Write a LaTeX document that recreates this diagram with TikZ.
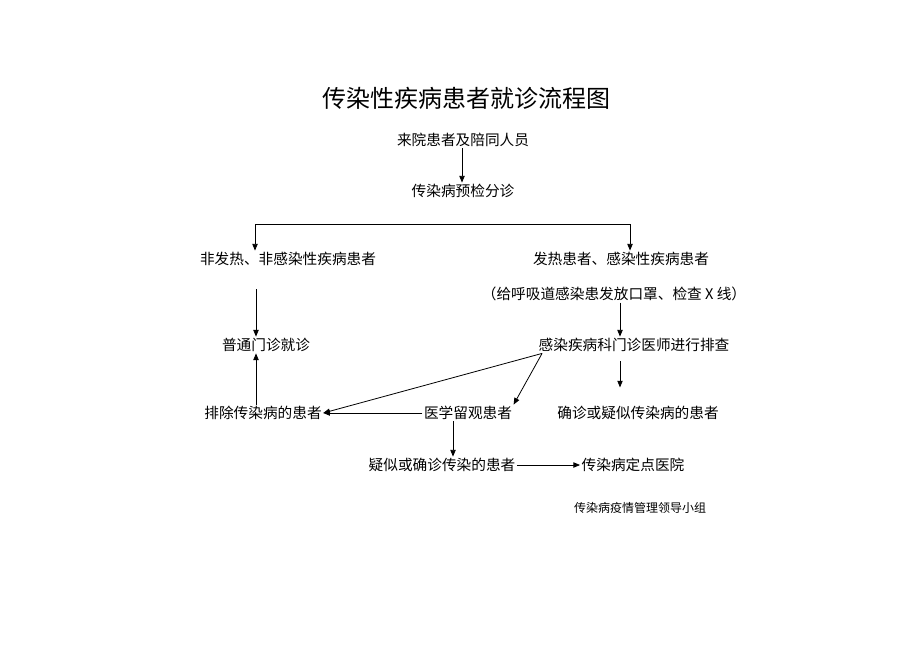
\documentclass[tikz,border=0pt]{standalone}
\usepackage{fontspec}
\setmainfont{Noto Sans CJK SC}
\usetikzlibrary{arrows.meta}
\begin{document}
\begin{tikzpicture}[x=0.75pt,y=-0.75pt,
  lbl/.style={inner sep=1pt,font=\fontsize{11}{13}\selectfont},
  arr/.style={-{Triangle[length=5pt,width=4pt]},line width=0.6pt}]
\useasboundingbox[fill=white] (0,0) rectangle (920,651);
\node[font=\fontsize{18}{22}\selectfont] (title) at (466,98) {传染性疾病患者就诊流程图};
\node[lbl] (a) at (463,140) {来院患者及陪同人员};
\node[lbl] (b) at (463,191) {传染病预检分诊};
\node[lbl] (c) at (288,259) {非发热、非感染性疾病患者};
\node[lbl] (d) at (621,259) {发热患者、感染性疾病患者};
\node[lbl] (d2) at (614,294) {（给呼吸道感染患发放口罩、检查 X 线）};
\node[lbl] (e) at (266,345) {普通门诊就诊};
\node[lbl] (f) at (634,345) {感染疾病科门诊医师进行排查};
\node[lbl] (g) at (263,413) {排除传染病的患者};
\node[lbl] (h) at (468,413) {医学留观患者};
\node[lbl] (i) at (638,413) {确诊或疑似传染病的患者};
\node[lbl] (j) at (442,465) {疑似或确诊传染的患者};
\node[lbl] (k) at (633,465) {传染病定点医院};
\node[font=\fontsize{9}{11}\selectfont] (l) at (640,508) {传染病疫情管理领导小组};
\coordinate (bl) at (255,224);
\coordinate (br) at (630,224);
\draw[arr] (a.south -| 462,0) -- (b.north -| 462,0);
\draw[line width=0.6pt] (bl) -- (br);
\draw[arr] (bl) -- (c.north -| bl);
\draw[arr] (br) -- (d.north -| br);
\draw[arr] (d2.south -| 620,0) -- (f.north -| 620,0);
\draw[arr] (c.south -| 256,0) ++(0,22) -- (e.north -| 256,0);
\draw[arr] (f.south -| 620,0) ++(0,8) -- ++(0,26);
\draw[arr] (g.north -| 256,0) -- (e.south -| 256,0);
\draw[arr] (f.south west) ++(5,0) -- (g.east);
\draw[arr] (f.south west) ++(5,0) -- (h.north east);
\draw[arr] (h.west) -- (g.east);
\draw[arr] (h.south -| 453,0) -- (j.north -| 453,0);
\draw[arr] (j.east) -- (k.west);
\end{tikzpicture}
\end{document}
